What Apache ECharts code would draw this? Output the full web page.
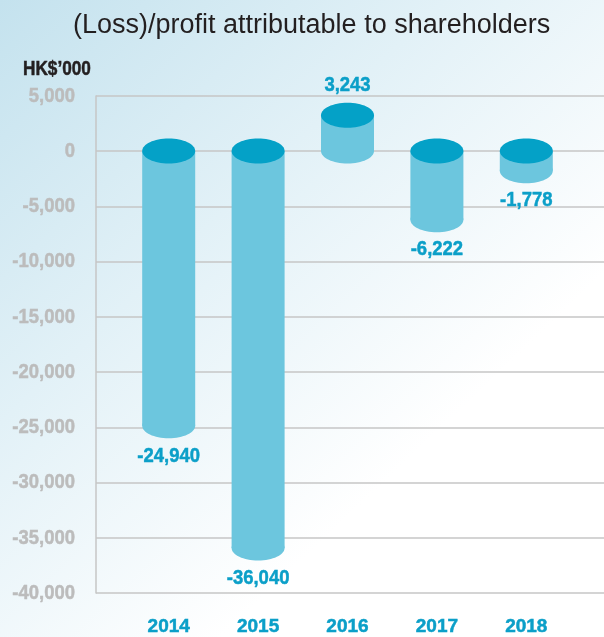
<!DOCTYPE html>
<html>
<head>
<meta charset="utf-8">
<script src="https://cdn.jsdelivr.net/npm/echarts@6/dist/echarts.min.js"></script>
<style>
html,body{margin:0;padding:0;}
#chart{width:604px;height:637px;}
</style>
</head>
<body>
<div id="chart"></div>
<script>
// ---- data ----
var years = ['2014', '2015', '2016', '2017', '2018'];
var profit = [-24940, -36040, 3243, -6222, -1778];
var yTicks = [5000, 0, -5000, -10000, -15000, -20000, -25000, -30000, -35000, -40000];
var yMin = -40000;
var yMax = 5000;
var yStep = 5000;
var titleText = '(Loss)/profit attributable to shareholders';
var unitText = 'HK$\u2019000';

function fmt(v) {
  var s = Math.abs(v).toString().replace(/\B(?=(\d{3})+(?!\d))/g, ',');
  return (v < 0 ? '-' : '') + s;
}

var FONT = '"Liberation Sans", Arial, Helvetica, sans-serif';
var topColor = '#04a1c7';
var bodyColor = '#6cc6de';
var labelColor = '#0b9fc8';
var axisLabelColor = '#bcbcbc';
var SQUEEZE = 0.88;

var chart = echarts.init(document.getElementById('chart'), null, {renderer: 'canvas'});

var option = {
  animation: false,
  backgroundColor: new echarts.graphic.LinearGradient(0, 0, 1, 1, [
    {offset: 0, color: '#c4e2ee'},
    {offset: 0.35, color: '#e2f1f7'},
    {offset: 0.7, color: '#ffffff'},
    {offset: 1, color: '#ffffff'}
  ]),
  title: {
    text: titleText,
    left: 73,
    top: 12,
    padding: 0,
    textStyle: {
      fontFamily: FONT,
      fontWeight: 'normal',
      fontSize: 27,
      color: '#231f20'
    }
  },
  graphic: [{
    type: 'text',
    x: 23,
    y: 59,
    scaleX: 0.86,
    style: {
      text: unitText,
      x: 0, y: 0,
      fontSize: 20, fontWeight: 'bold', fontFamily: FONT,
      fill: '#231f20', stroke: '#231f20', lineWidth: 0.5
    }
  }],
  grid: [
    {left: 96, right: 0, top: 96, bottom: 44},
    {left: 124, right: 33, top: 96, bottom: 44}
  ],
  xAxis: [
    {gridIndex: 0, type: 'category', data: years, show: false},
    {
      gridIndex: 1, type: 'category', data: years,
      axisLine: {show: false}, axisTick: {show: false},
      axisLabel: {
        margin: 26,
        color: labelColor,
        fontFamily: FONT,
        fontWeight: 'bold',
        fontSize: 19,
        textBorderColor: labelColor,
        textBorderWidth: 0.5
      }
    }
  ],
  yAxis: [
    {
      gridIndex: 0, type: 'value', min: yMin, max: yMax, interval: yStep,
      axisLine: {show: true, lineStyle: {color: '#c6c6c6', width: 1.5}},
      axisTick: {show: false},
      splitLine: {show: true, lineStyle: {color: '#c6c6c6', width: 1.5}},
      axisLabel: {show: false}
    },
    {gridIndex: 1, type: 'value', min: yMin, max: yMax, interval: yStep, show: false}
  ],
  series: [
    {
      // y-axis tick labels (horizontally condensed), placed through the axis scale
      type: 'custom',
      xAxisIndex: 0,
      yAxisIndex: 0,
      clip: false,
      silent: true,
      data: yTicks.map(function (v) { return [0, v]; }),
      renderItem: function (params, api) {
        var v = api.value(1);
        var p = api.coord([0, v]);
        return {
          type: 'text',
          x: params.coordSys.x - 21,
          y: p[1],
          scaleX: SQUEEZE,
          style: {
            text: fmt(v), x: 0, y: 0, align: 'right', verticalAlign: 'middle',
            fontSize: 21, fontWeight: 'bold', fontFamily: FONT,
            fill: axisLabelColor, stroke: axisLabelColor, lineWidth: 0.5
          }
        };
      }
    },
    {
      type: 'custom',
      xAxisIndex: 1,
      yAxisIndex: 1,
      clip: false,
      data: profit.map(function (v, i) { return [i, v]; }),
      renderItem: function (params, api) {
        var idx = api.value(0);
        var val = api.value(1);
        var pTop = api.coord([idx, Math.max(val, 0)]);
        var pBot = api.coord([idx, Math.min(val, 0)]);
        var cx = pTop[0];
        var rx = 26.5, ry = 12.5;
        var labelY = val >= 0 ? pTop[1] - 30 : pBot[1] + 30;
        return {
          type: 'group',
          children: [
            {type: 'ellipse', shape: {cx: cx, cy: pBot[1], rx: rx, ry: ry}, style: {fill: bodyColor}},
            {type: 'rect', shape: {x: cx - rx, y: pTop[1], width: rx * 2, height: pBot[1] - pTop[1]}, style: {fill: bodyColor}},
            {type: 'ellipse', shape: {cx: cx, cy: pTop[1], rx: rx, ry: ry}, style: {fill: topColor}},
            {type: 'text', x: cx, y: labelY, scaleX: SQUEEZE, style: {
              text: fmt(val), x: 0, y: 0, align: 'center', verticalAlign: 'middle',
              fontSize: 21, fontWeight: 'bold', fontFamily: FONT,
              fill: labelColor, stroke: labelColor, lineWidth: 0.5
            }}
          ]
        };
      }
    }
  ]
};
chart.setOption(option);
</script>
</body>
</html>
